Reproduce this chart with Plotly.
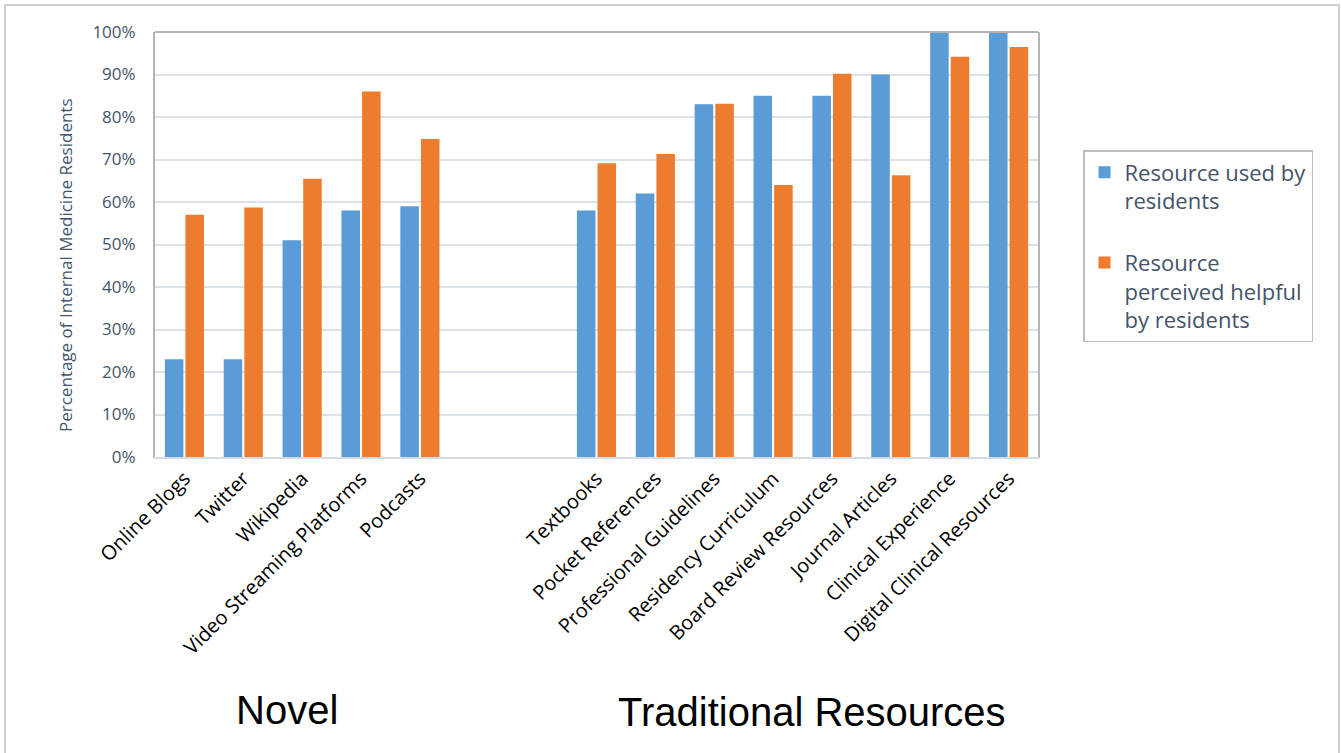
import plotly.graph_objects as go

# ---- data ----
novel_categories = ["Online Blogs", "Twitter", "Wikipedia", "Video Streaming Platforms", "Podcasts"]
traditional_categories = ["Textbooks", "Pocket References", "Professional Guidelines",
                          "Residency Curriculum", "Board Review Resources", "Journal Articles",
                          "Clinical Experience", "Digital Clinical Resources"]
novel_used = [23, 23, 51, 58, 59]
novel_helpful = [57, 58.7, 65.5, 86, 74.8]
traditional_used = [58, 62, 83, 85, 85, 90, 100, 100]
traditional_helpful = [69.1, 71.3, 83.1, 64, 90.2, 66.3, 94.2, 96.5]
spacers = [" ", "  "]
series_names = ["Resource used by<br>residents", "Resource<br>perceived helpful<br>by residents"]
y_ticks = list(range(0, 101, 10))
y_tick_labels = [f"{v}%" for v in y_ticks]
group_labels = ["Novel", "Traditional Resources"]

x = novel_categories + spacers + traditional_categories
used = novel_used + [None, None] + traditional_used
helpful = novel_helpful + [None, None] + traditional_helpful

W, H = 1341, 753
L, R, T, B = 155, 1038, 32, 457
pw, ph = R - L, B - T

def px_x(v):
    return (v - L) / pw

def px_y(v):
    return (B - v) / ph

text_col = "#44546a"

fig = go.Figure()
fig.add_trace(go.Bar(x=x, y=used, name=series_names[0], marker=dict(color="#5b9bd6", line=dict(width=0)),
                     legendgroup="a"))
fig.add_trace(go.Bar(x=x, y=helpful, name=series_names[1], marker=dict(color="#ee7c2f", line=dict(width=0)),
                     legendgroup="b"))

fig.update_layout(
    width=W, height=H,
    margin=dict(l=L, r=W - R, t=T, b=H - B, autoexpand=False),
    paper_bgcolor="white", plot_bgcolor="white",
    barmode="group", bargap=0.3, bargroupgap=0.1,
    font=dict(family="Open Sans", color=text_col),
    showlegend=True,
    legend=dict(x=px_x(1083), y=px_y(150), xanchor="left", yanchor="top",
                bordercolor="#bfbfbf", borderwidth=1.5, bgcolor="white",
                font=dict(size=22, color=text_col, family="Open Sans"),
                tracegroupgap=30, valign="top", traceorder="grouped"),
)
fig.update_xaxes(type="category", categoryorder="array", categoryarray=x,
                 tickangle=-45, tickfont=dict(size=20, color="#000000", family="Open Sans"),
                 showline=True, linecolor="#d5dae3", linewidth=2, showgrid=False, ticks="",
                 fixedrange=True)
fig.update_yaxes(range=[0, 100], tickvals=y_ticks, ticktext=y_tick_labels,
                 tickfont=dict(size=17, color=text_col, family="Open Sans"),
                 showgrid=True, gridcolor="#dde1e8", gridwidth=1.5,
                 showline=True, linecolor="#b5b5b5", linewidth=2, mirror=True,
                 zeroline=False, ticks="", ticklabelstandoff=14, fixedrange=True)

# plot-area top border and outer chart border
fig.add_shape(type="line", xref="paper", yref="paper", x0=0, x1=1, y0=1, y1=1,
              line=dict(color="#b5b5b5", width=2))
fig.add_shape(type="rect", xref="paper", yref="paper",
              x0=px_x(5), x1=px_x(1339), y0=px_y(5), y1=px_y(770),
              line=dict(color="#cfcfcf", width=2), fillcolor="rgba(0,0,0,0)", layer="below")

fig.add_annotation(text="Percentage of Internal Medicine Residents", textangle=-90,
                   xref="paper", yref="paper", x=px_x(65), y=px_y(265),
                   xanchor="center", yanchor="middle",
                   showarrow=False, font=dict(size=17, color=text_col, family="Open Sans"))
fig.add_annotation(text=group_labels[0], xref="paper", yref="paper", x=px_x(287), y=px_y(710),
                   xanchor="center", yanchor="middle",
                   showarrow=False, font=dict(size=40, color="#000000", family="Liberation Sans"))
fig.add_annotation(text=group_labels[1], xref="paper", yref="paper", x=px_x(812), y=px_y(712),
                   xanchor="center", yanchor="middle",
                   showarrow=False, font=dict(size=40, color="#000000", family="Liberation Sans"))

fig.write_html("out.html")
